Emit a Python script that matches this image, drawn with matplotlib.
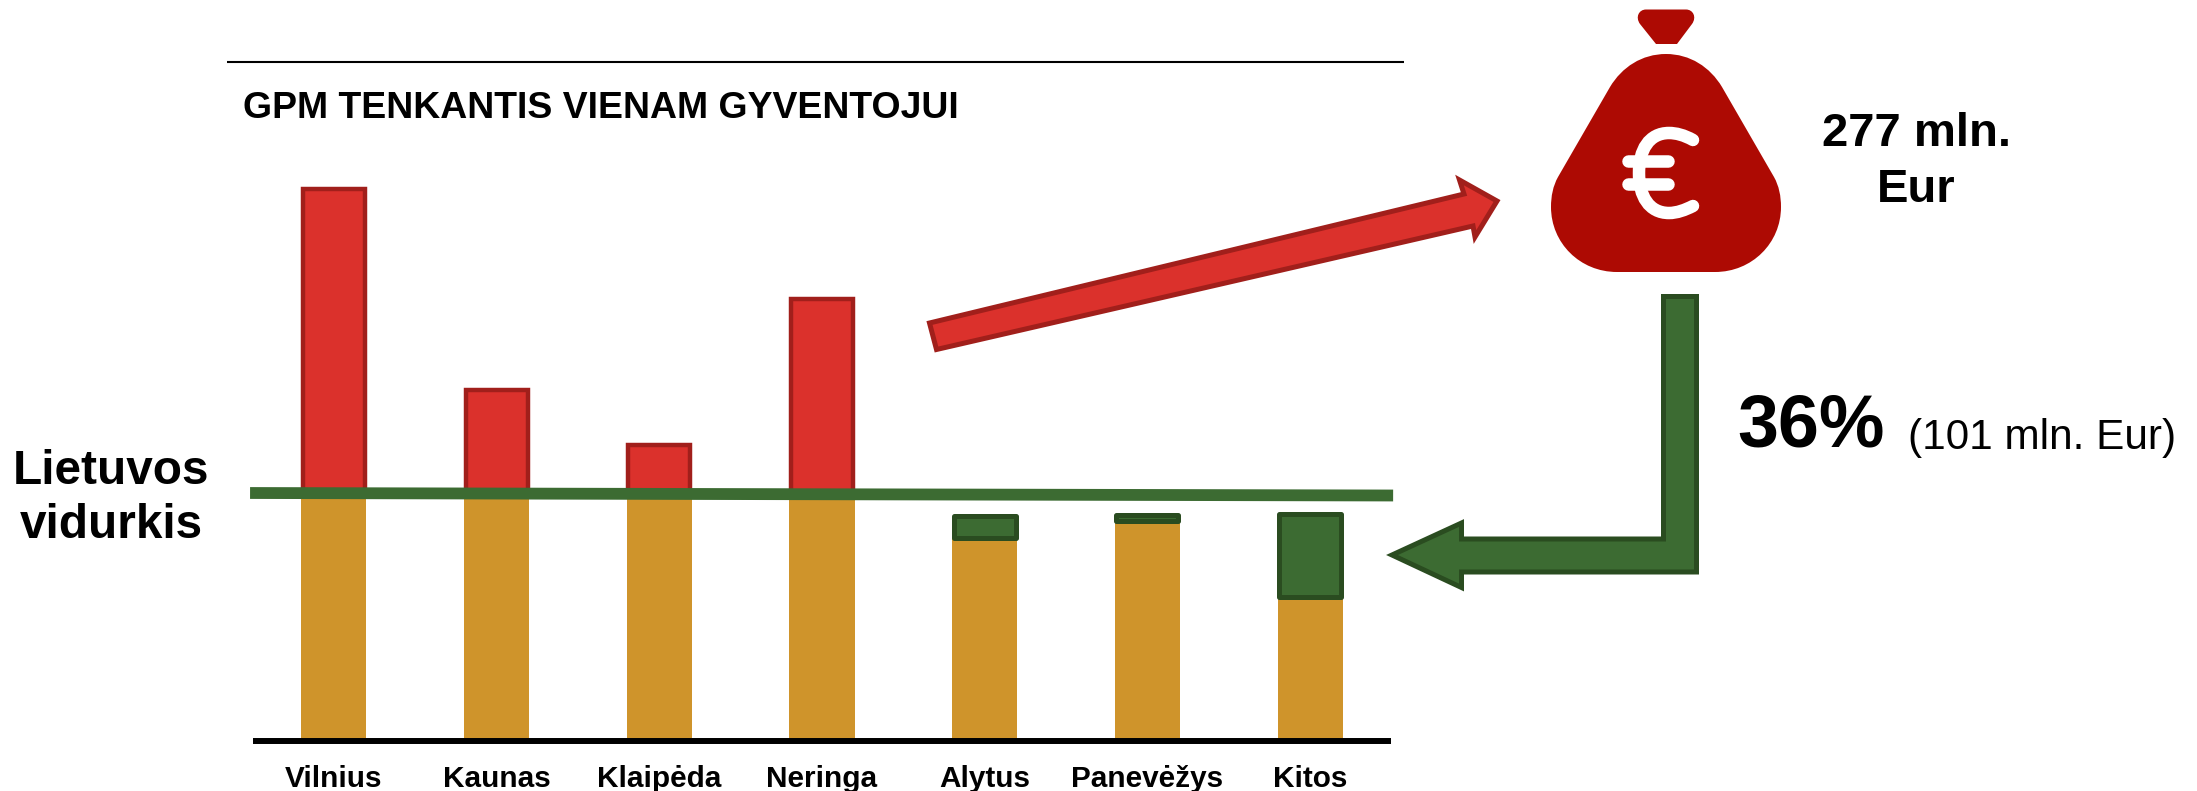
import matplotlib
matplotlib.use("Agg")
import matplotlib.pyplot as plt
from matplotlib.path import Path
from matplotlib.patches import PathPatch, Polygon

W, H = 2197, 791
plt.rcParams['font.family'] = ['Liberation Sans', 'DejaVu Sans']

# ---- data (no axis scale is shown: arbitrary units)
categories = ["Vilnius", "Kaunas", "Klaipėda", "Neringa", "Alytus", "Panevėžys", "Kitos"]
base_values = [247, 247, 247, 247, 203, 220, 144]
above_average = [305, 104, 49, 195, 0, 0, 0]
shortfall = [0, 0, 0, 0, 22, 6, 83]
average_line = [248, 245.5]
title = "GPM TENKANTIS VIENAM GYVENTOJUI"

ORANGE = "#CF942B"
RED, RED_E = "#DB312C", "#A11F1B"
GREEN, GREEN_E = "#3C6B32", "#2A4C20"
BAG = "#AD0A03"

fig = plt.figure(figsize=(W / 100, H / 100), dpi=100)

# overlay in pixel coordinates for the decorations
ov = fig.add_axes([0, 0, 1, 1], zorder=1)
ov.set_xlim(0, W)
ov.set_ylim(H, 0)
ov.axis("off")

# chart axes
left, right, bottom, top = 252.5, 1391.5, 741, 141
ax = fig.add_axes([left / W, 1 - bottom / H, (right - left) / W, (bottom - top) / H], zorder=2)
ax.patch.set_alpha(0)
ax.set_xlim(-0.5, 6.5)
ax.set_ylim(0, bottom - top)
for s in ("top", "left", "right"):
    ax.spines[s].set_visible(False)
ax.spines["bottom"].set_linewidth(4.3)
ax.spines["bottom"].set_color("black")
ax.spines["bottom"].set_zorder(6)
ax.spines["bottom"].set_capstyle("butt")
ax.set_yticks([])
x = list(range(len(categories)))
ax.set_xticks(x, categories, fontsize=21.4, fontweight="bold")
ax.tick_params(axis="x", length=0, pad=17)

bw = 0.4
bw_edge = 0.381
ax.bar(x, base_values, width=bw, color=ORANGE, linewidth=0, zorder=2)
ax.bar(x[:4], above_average[:4], bottom=base_values[:4], width=bw_edge, color=RED,
       edgecolor=RED_E, linewidth=3.2, zorder=3)
ax.bar(x[4:], shortfall[4:], bottom=base_values[4:], width=bw_edge, color=GREEN,
       edgecolor=GREEN_E, linewidth=3.6, joinstyle="round", zorder=3)
ax.plot([-0.515, 6.51], average_line, color=GREEN, lw=8.5, solid_capstyle="butt",
        clip_on=False, zorder=4)

# rule + title
ov.plot([227, 1404], [62, 62], color="black", lw=1.5, solid_capstyle="butt")
ov.text(243, 109, title, fontsize=26.9, fontweight="bold", va="center", ha="left")

# side texts
ov.text(111, 471, "Lietuvos", fontsize=34.4, fontweight="bold", ha="center", va="center")
ov.text(111, 526, "vidurkis", fontsize=34.4, fontweight="bold", ha="center", va="center")
ov.text(1916, 134, "277 mln.", fontsize=34, fontweight="bold", ha="center", va="center")
ov.text(1916, 190, "Eur", fontsize=34, fontweight="bold", ha="center", va="center")
ov.text(1737, 427, "36%", fontsize=53, fontweight="bold", ha="left", va="center")
ov.text(1908, 438, "(101 mln. Eur)", fontsize=30.4, ha="left", va="center")

# red arrow
red_arrow = [(929.5, 323), (936.5, 349.5), (1473, 226), (1475, 237),
             (1497, 201), (1459.5, 180), (1464, 194)]
ov.add_patch(Polygon(red_arrow, closed=True, fc=RED, ec=RED_E, lw=3.6, joinstyle="miter"))

# green arrow
green_arrow = [(1663.5, 296.5), (1696.5, 296.5), (1696.5, 572), (1461.5, 572),
               (1461.5, 587.5), (1392, 555), (1461.5, 523), (1461.5, 539), (1663.5, 539)]
ov.add_patch(Polygon(green_arrow, closed=True, fc=GREEN, ec=GREEN_E, lw=3.6, joinstyle="miter"))

# money bag
M, L, C, Z = Path.MOVETO, Path.LINETO, Path.CURVE4, Path.CLOSEPOLY
body = [
    ((1666, 54), M),
    ((1642, 54), C), ((1622, 67), C), ((1610, 87), C),
    ((1558, 177), L),
    ((1553, 186), C), ((1551, 196), C), ((1551, 207), C),
    ((1551, 243), C), ((1580, 272), C), ((1617, 272), C),
    ((1715, 272), L),
    ((1752, 272), C), ((1781, 243), C), ((1781, 207), C),
    ((1781, 196), C), ((1779, 186), C), ((1774, 177), C),
    ((1722, 87), L),
    ((1710, 67), C), ((1690, 54), C), ((1666, 54), C),
    ((1666, 54), Z),
]
ov.add_patch(PathPatch(Path([p for p, _ in body], [c for _, c in body]), fc=BAG, ec="none"))
knot = [
    ((1646, 9.5), M), ((1686, 9.5), L),
    ((1693, 9.5), C), ((1697, 17), C), ((1692, 24), C),
    ((1677, 44), L), ((1656, 44), L), ((1640, 24), L),
    ((1635, 17), C), ((1639, 9.5), C), ((1646, 9.5), C),
    ((1646, 9.5), Z),
]
ov.add_patch(PathPatch(Path([p for p, _ in knot], [c for _, c in knot]), fc=BAG, ec="none"))

# euro sign
euro = [
    ((1693, 140), M),
    ((1684, 135), C), ((1676, 133), C), ((1669, 133), C),
    ((1649, 133), C), ((1639, 150), C), ((1639, 173), C),
    ((1639, 196), C), ((1649, 213), C), ((1669, 213), C),
    ((1677, 213), C), ((1685, 210), C), ((1693, 206), C),
]
ov.add_patch(PathPatch(Path([p for p, _ in euro], [c for _, c in euro]), fc="none", ec="white",
                       lw=9, capstyle="round"))
ov.plot([1628, 1668], [161, 161], color="white", lw=9, solid_capstyle="round")
ov.plot([1628, 1668], [184, 184], color="white", lw=9, solid_capstyle="round")

fig.savefig("out.png", dpi=100, facecolor="white")
